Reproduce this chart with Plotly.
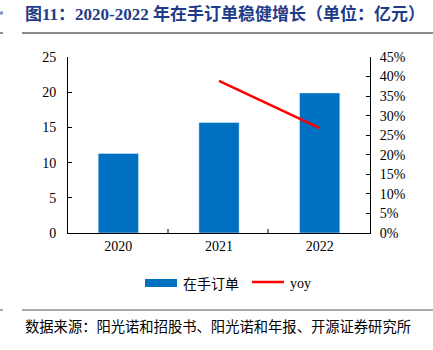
import plotly.graph_objects as go

years = ["2020", "2021", "2022"]
orders = [11.3, 15.7, 19.9]
yoy_years = ["2021", "2022"]
yoy = [38.9, 26.8]
left_ticks = [0, 5, 10, 15, 20, 25]
right_ticks = [0, 5, 10, 15, 20, 25, 30, 35, 40, 45]

W, H = 433, 350
L, R, T, B = 68, 370, 57, 233
pw, ph = R - L, B - T

def px(x):
    return (x - L) / pw

def py(y):
    return (B - y) / ph

serif = "Liberation Serif"
cjk = "Noto Sans CJK SC"
mixed = "Liberation Serif, Noto Sans CJK SC"

fig = go.Figure()
fig.add_trace(go.Bar(x=years, y=orders, marker_color="#0070C0", width=0.4,
                     name="在手订单", yaxis="y"))
fig.add_trace(go.Scatter(x=yoy_years, y=yoy, mode="lines", name="yoy",
                         line=dict(color="#FF0000", width=2.5), yaxis="y2"))

fig.update_layout(
    width=W, height=H,
    margin=dict(l=L, r=W - R, t=T, b=H - B, pad=0),
    paper_bgcolor="white", plot_bgcolor="white",
    showlegend=False,
    xaxis=dict(type="category", showline=True, linecolor="black", linewidth=1,
               ticks="", tickfont=dict(family=serif, size=14, color="black"),
               showgrid=False, zeroline=False),
    yaxis=dict(range=[0, 25], tickvals=left_ticks, showline=True, linecolor="black",
               linewidth=1, ticks="inside", ticklen=4, tickcolor="black",
               tickfont=dict(family=serif, size=14, color="black"),
               showgrid=False, zeroline=False, ticklabelstandoff=8),
    yaxis2=dict(range=[0, 45], tickvals=right_ticks, ticktext=[f"{v}%" for v in right_ticks],
                overlaying="y", side="right", showline=True, linecolor="black",
                linewidth=1, ticks="inside", ticklen=4, tickcolor="black",
                tickfont=dict(family=serif, size=14, color="black"),
                showgrid=False, zeroline=False, ticklabelstandoff=6),
)

shapes = []
# category separators on the x axis
for xc in [px(168), px(268)]:
    shapes.append(dict(type="line", xref="paper", yref="paper", x0=xc, x1=xc,
                       y0=0, y1=py(229), line=dict(color="black", width=1)))
# title underline
shapes.append(dict(type="line", xref="paper", yref="paper", x0=px(22), x1=px(433),
                   y0=py(33), y1=py(33), line=dict(color="#8c8c8c", width=2)))
# footer line
shapes.append(dict(type="line", xref="paper", yref="paper", x0=px(22), x1=px(433),
                   y0=py(310), y1=py(310), line=dict(color="#555555", width=1)))
# edge remnants on the left
shapes.append(dict(type="line", xref="paper", yref="paper", x0=px(0), x1=px(3),
                   y0=py(13), y1=py(13), line=dict(color="#7f8fc0", width=3)))
shapes.append(dict(type="line", xref="paper", yref="paper", x0=px(0), x1=px(3),
                   y0=py(33), y1=py(33), line=dict(color="#8c8c8c", width=2)))
shapes.append(dict(type="line", xref="paper", yref="paper", x0=px(0), x1=px(3),
                   y0=py(310), y1=py(310), line=dict(color="#555555", width=1)))
# legend symbols
shapes.append(dict(type="rect", xref="paper", yref="paper", x0=px(145), x1=px(177),
                   y0=py(287), y1=py(279), fillcolor="#0070C0", line=dict(width=0)))
shapes.append(dict(type="line", xref="paper", yref="paper", x0=px(252), x1=px(284),
                   y0=py(282), y1=py(282), line=dict(color="#FF0000", width=2.5)))
fig.update_layout(shapes=shapes)

ann = [
    dict(text="<b>图11：2020-2022 年在手订单稳健增长（单位：亿元）</b>", x=px(23), y=py(14),
         xanchor="left", yanchor="middle", font=dict(family=mixed, size=17, color="#1F3C88")),
    dict(text="在手订单", x=px(181), y=py(283), xanchor="left", yanchor="middle",
         font=dict(family=cjk, size=14, color="black")),
    dict(text="yoy", x=px(288), y=py(283), xanchor="left", yanchor="middle",
         font=dict(family=serif, size=14, color="black")),
    dict(text="数据来源：阳光诺和招股书、阳光诺和年报、开源证券研究所", x=px(23), y=py(325),
         xanchor="left", yanchor="middle", font=dict(family=cjk, size=14.3, color="black")),
]
for a in ann:
    a.update(xref="paper", yref="paper", showarrow=False)
fig.update_layout(annotations=ann)

fig.write_html("out.html")
